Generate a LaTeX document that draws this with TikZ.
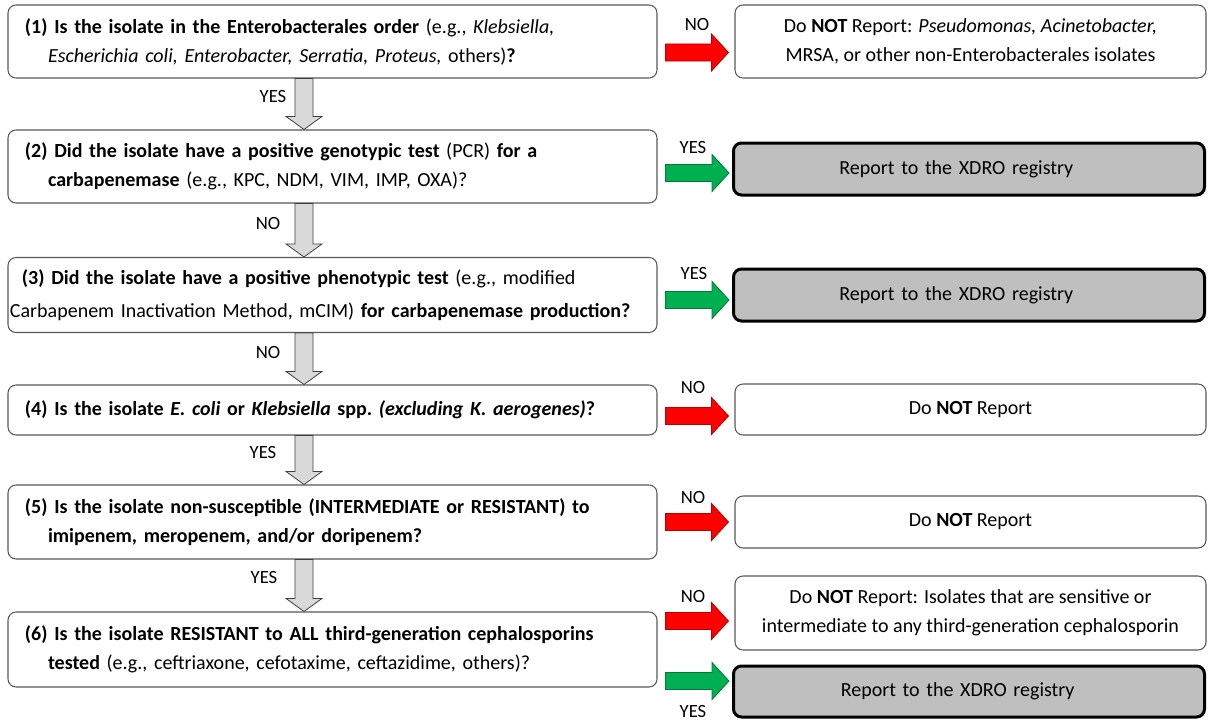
\documentclass[tikz,border=0pt]{standalone}
\usepackage{fontspec}
\setmainfont{Carlito}
\usetikzlibrary{calc}
\definecolor{redf}{HTML}{FF0000}
\definecolor{redd}{HTML}{B80000}
\definecolor{grnf}{HTML}{00B050}
\definecolor{grnd}{HTML}{00783A}
\definecolor{arrgray}{HTML}{D9D9D9}
\definecolor{boxgray}{HTML}{BFBFBF}
\definecolor{edgegray}{HTML}{595959}
\tikzset{
  txt/.style={font=\fontsize{15}{21.75}\selectfont, text=black},
  qbox/.style={txt, draw=edgegray, line width=0.8pt, rounded corners=6pt, fill=white,
    minimum width=486.75pt, text width=461.25pt, inner xsep=12.75pt, inner ysep=0pt, align=left},
  rbox/.style={txt, draw=edgegray, line width=0.8pt, rounded corners=6pt, fill=white,
    minimum width=353.25pt, inner ysep=0pt, align=center},
  gbox/.style={txt, draw=black, line width=2.25pt, rounded corners=6pt, fill=boxgray,
    minimum width=353.25pt, text width=340pt, inner ysep=0pt, align=center},
  lbl/.style={font=\fontsize{14}{16}\selectfont, text=black, inner sep=0pt},
  grayarr/.style={fill=arrgray, draw=black!75, line width=0.6pt},
  redarr/.style={fill=redf, draw=redd, line width=0.6pt},
  grnarr/.style={fill=grnf, draw=grnd, line width=0.6pt}
}
% vertical gray block arrow between two stacked nodes
\newcommand\dnarr[2]{%
  \draw[grayarr] let \p1=($(#1.south)+(-28.5,0)$), \p2=($(#2.north)+(-28.5,0)$) in
    (\x1-6.75pt,\y1) -- (\x1-6.75pt,\y2+9.75pt) -- (\x1-13.5pt,\y2+9.75pt) -- (\x1,\y2)
    -- (\x1+13.5pt,\y2+9.75pt) -- (\x1+6.75pt,\y2+9.75pt) -- (\x1+6.75pt,\y1) -- cycle;}
% horizontal block arrow: #1 style, #2 from node, #3 to node, #4 y (px), #5 gap at tip
\newcommand\rtarr[5]{%
  \draw[#1] let \p1=(#2.east), \p2=(#3.west), \p3=(0,#4) in
    (\x1+6pt,\y3+6.4pt) -- (\x2-#5-12.75pt,\y3+6.4pt) -- (\x2-#5-12.75pt,\y3+13.9pt)
    -- (\x2-#5,\y3) -- (\x2-#5-12.75pt,\y3-13.9pt) -- (\x2-#5-12.75pt,\y3-6.4pt)
    -- (\x1+6pt,\y3-6.4pt) -- cycle;}
\begin{document}
\begin{tikzpicture}[x=0.75pt,y=-0.75pt]
\useasboundingbox (0,0) rectangle (1208,721);

% question boxes
\node[qbox, minimum height=54.75pt] (q1) at (332.5,41.5)
  {\textbf{(1) Is the isolate in the Enterobacterales order} (e.g., \textit{Klebsiella,}\\
   \hspace*{17.25pt}\textit{Escherichia coli, Enterobacter, Serratia, Proteus,} others)\textbf{?}};
\node[qbox, minimum height=54.75pt] (q2) at (332.5,166.5)
  {\textbf{(2) Did the isolate have a positive genotypic test} (PCR) \textbf{for a}\\
   \hspace*{17.25pt}\textbf{carbapenemase} (e.g., KPC, NDM, VIM, IMP, OXA)?};
\node[qbox, minimum height=56.25pt, inner xsep=1.5pt, text width=483.75pt,
      font=\fontsize{15}{24.5}\selectfont] (q3) at (332.5,295)
  {\hspace*{9pt}\textbf{(3) Did the isolate have a positive phenotypic test} (e.g., modified\\
   Carbapenem Inactivation Method, mCIM) \textbf{for carbapenemase production?}};
\node[qbox, minimum height=37.5pt] (q4) at (332.5,410)
  {\textbf{(4) Is the isolate \textit{E.\ coli} or \textit{Klebsiella} spp.\ \textit{(excluding K.\ aerogenes)}?}};
\node[qbox, minimum height=55.5pt] (q5) at (332.5,522)
  {\textbf{(5) Is the isolate non-susceptible (INTERMEDIATE or RESISTANT) to}\\
   \hspace*{17.25pt}\textbf{imipenem, meropenem, and/or doripenem?}};
\node[qbox, minimum height=56.25pt] (q6) at (332.5,649.5)
  {\textbf{(6) Is the isolate RESISTANT to ALL third-generation cephalosporins}\\
   \hspace*{17.25pt}\textbf{tested} (e.g., ceftriaxone, cefotaxime, ceftazidime, others)?};

% outcome boxes
\node[rbox, minimum height=54.75pt] (r1) at (970.5,41.5)
  {Do \textbf{NOT} Report: \textit{Pseudomonas, Acinetobacter,}\\
   MRSA, or other non-Enterobacterales isolates};
\node[gbox, minimum height=39pt] (r2) at (969,169) {Report to the XDRO registry\hspace*{19pt}};
\node[gbox, minimum height=39pt] (r3) at (969,295) {Report to the XDRO registry\hspace*{19pt}};
\node[rbox, minimum height=38.25pt] (r4) at (970.5,409.5) {Do \textbf{NOT} Report};
\node[rbox, minimum height=39pt] (r5) at (970.5,522) {Do \textbf{NOT} Report};
\node[rbox, minimum height=55.5pt] (r6) at (970.5,613)
  {Do \textbf{NOT} Report: Isolates that are sensitive or\\
   intermediate to any third-generation cephalosporin};
\node[gbox, minimum height=38.25pt] (r7) at (969,691.5) {Report to the XDRO registry\hspace*{17pt}};

% vertical arrows
\dnarr{q1}{q2}
\dnarr{q2}{q3}
\dnarr{q3}{q4}
\dnarr{q4}{q5}
\dnarr{q5}{q6}
\node[lbl] (l1) at (273,97) {YES};
\node[lbl] (l2) at (268,224) {NO};
\node[lbl] (l3) at (268,353) {NO};
\node[lbl] (l4) at (263,453) {YES};
\node[lbl] (l5) at (264,578) {YES};

% horizontal arrows
\rtarr{redarr}{q1}{r1}{52.5}{4.5pt}
\rtarr{grnarr}{q2}{r2}{173}{2.25pt}
\rtarr{grnarr}{q3}{r3}{300}{2.25pt}
\rtarr{redarr}{q4}{r4}{416}{4.5pt}
\rtarr{redarr}{q5}{r5}{522}{4.5pt}
\rtarr{redarr}{q6}{r6}{621}{4.5pt}
\rtarr{grnarr}{q6}{r7}{681}{2.25pt}
\node[lbl] (h1) at (697,25) {NO};
\node[lbl] (h2) at (693,148) {YES};
\node[lbl] (h3) at (694,274) {YES};
\node[lbl] (h4) at (693,388) {NO};
\node[lbl] (h5) at (693,498) {NO};
\node[lbl] (h6) at (693,597) {NO};
\node[lbl] (h7) at (693,712) {YES};
\end{tikzpicture}
\end{document}
